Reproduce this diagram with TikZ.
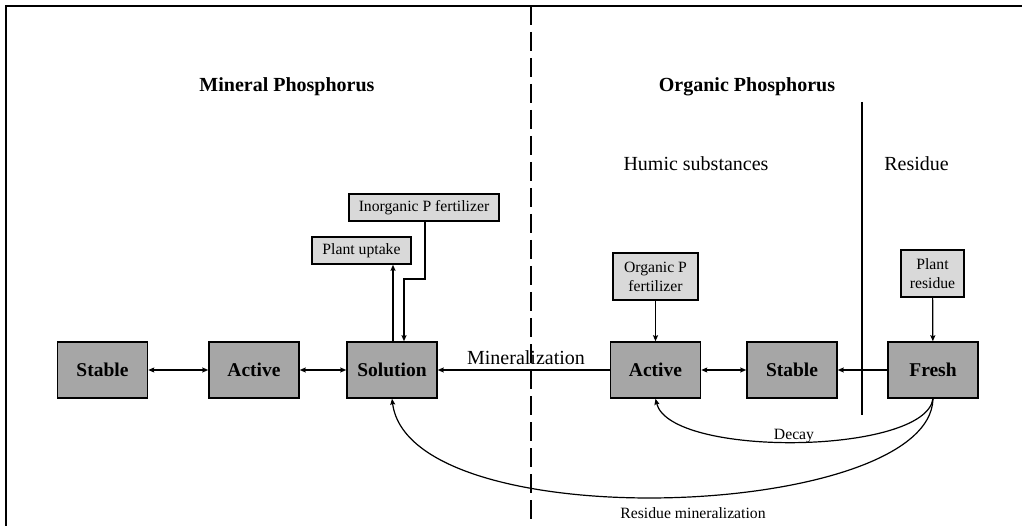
\documentclass[tikz,border=0pt]{standalone}
\usepackage{fontspec}
\setmainfont{Liberation Serif}
\usetikzlibrary{arrows.meta}
\definecolor{boxgray}{HTML}{A6A6A6}
\definecolor{smallgray}{HTML}{D9D9D9}
\tikzset{
  mainbox/.style={draw, line width=1.5pt, fill=boxgray, minimum width=90pt, minimum height=56pt, inner sep=0pt, font=\fontsize{19.5}{20}\selectfont\bfseries},
  smallbox/.style={draw, line width=1.5pt, fill=smallgray, inner sep=0pt, align=center, font=\fontsize{15.7}{19}\selectfont},
  conn/.style={line width=1.2pt},
  tip/.tip={Stealth[length=6pt,width=5pt,inset=1pt]},
  arr/.style={conn, -tip},
  darr/.style={conn, tip-tip},
  lbl/.style={inner sep=0pt, font=\fontsize{20}{24}\selectfont},
  slbl/.style={inner sep=0pt, font=\fontsize{15.7}{19}\selectfont},
  head/.style={inner sep=0pt, font=\fontsize{20}{24}\selectfont\bfseries},
  frame/.style={line width=1.5pt},
  divider/.style={line width=2pt, dash pattern=on 19pt off 7pt},
  sep/.style={line width=1.5pt}
}
\begin{document}
\begin{tikzpicture}[x=1pt, y=-1pt]
\useasboundingbox (0,0) rectangle (1022,526);
% frame and dividers
\draw[frame] (6,526) -- (6,6) -- (1022,6);
\draw[divider] (531,6) -- (531,526);
\draw[sep] (862,102) -- (862,415);
% headings
\node[head] (hmin) at (287,87) {Mineral Phosphorus};
\node[head] (horg) at (747,87) {Organic Phosphorus};
\node[lbl] (humic) at (696,164) {Humic substances};
\node[lbl] (resid) at (916.5,164) {Residue};
% main boxes
\node[mainbox] (MSt) at (102.5,370) {Stable};
\node[mainbox] (MAc) at (254,370) {Active};
\node[mainbox] (Sol) at (392,370) {Solution};
\node[mainbox] (OAc) at (655.5,370) {Active};
\node[mainbox] (OSt) at (792,370) {Stable};
\node[mainbox] (Fr) at (933,370) {Fresh};
% small boxes
\node[smallbox, minimum width=99pt, minimum height=27pt] (Upt) at (361.5,250.5) {Plant uptake};
\node[smallbox, minimum width=150pt, minimum height=27pt] (Inf) at (424,207.5) {Inorganic P fertilizer};
\node[smallbox, minimum width=85pt, minimum height=47pt] (Ofe) at (655.5,276.5) {Organic P\\fertilizer};
\node[smallbox, minimum width=63pt, minimum height=47pt] (Pre) at (932.5,273.5) {Plant\\residue};
% connectors
\draw[darr] (MSt) -- (MAc);
\draw[darr] (MAc) -- (Sol);
\draw[darr] (OAc) -- (OSt);
\draw[arr] (Fr) -- (OSt);
\draw[arr] (OAc) -- (Sol);
\node[lbl] (minlbl) at (526,358) {Mineralization};
\draw[arr] ([xshift=1pt]Sol.north) -- ([xshift=1pt]Sol.north |- Upt.south);
\draw[arr] ([xshift=1pt]Inf.south) |- (404,279) -- ([xshift=12pt]Sol.north);
\draw[arr] (Ofe) -- (OAc);
\draw[arr] (Pre) -- (Fr);
\draw[arr] (Fr.south) .. controls (925,455) and (670,458) .. (OAc.south);
\draw[arr] (Fr.south) .. controls (930,520) and (410,540) .. (Sol.south);
\node[slbl, anchor=base] (decay) at (794,439) {Decay};
\node[slbl, anchor=base] (resmin) at (693,518) {Residue mineralization};
\end{tikzpicture}
\end{document}
